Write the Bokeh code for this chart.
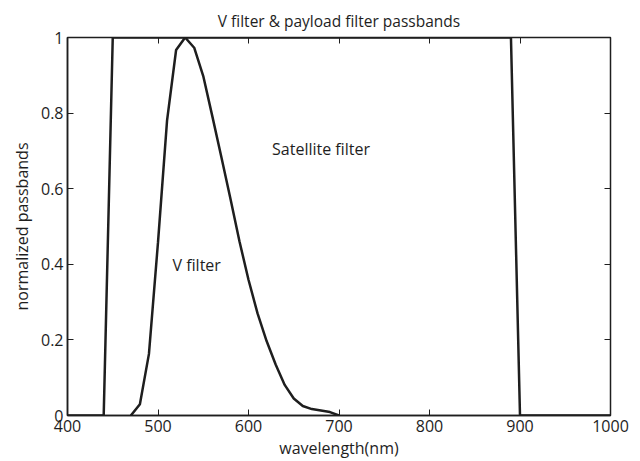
from bokeh.plotting import figure
from bokeh.models import FixedTicker, CustomJSTickFormatter, LinearAxis, Label, Range1d
from bokeh.embed import file_html
from bokeh.resources import INLINE

# Satellite (payload) filter: flat-top passband
sat_wavelength = [400, 440, 450, 890, 900, 1000]
sat_pass = [0, 0, 1, 1, 0, 0]

# Johnson V filter response, normalized
v_wavelength = [470, 480, 490, 500, 510, 520, 530, 540, 550, 560, 570, 580,
                590, 600, 610, 620, 630, 640, 650, 660, 670, 680, 690, 700]
v_pass = [0.0, 0.03, 0.163, 0.458, 0.78, 0.967, 1.0, 0.973, 0.898, 0.792,
          0.684, 0.574, 0.461, 0.359, 0.27, 0.197, 0.135, 0.081, 0.045,
          0.025, 0.017, 0.013, 0.009, 0.0]

x_ticks = [400, 500, 600, 700, 800, 900, 1000]
y_ticks = [0, 0.2, 0.4, 0.6, 0.8, 1]

FONT = "Open Sans"
INK = "#1e1e1e"

p = figure(width=640, height=461, output_backend="svg", toolbar_location=None,
           x_range=Range1d(400, 1000), y_range=Range1d(0, 1),
           title="V filter & payload filter passbands",
           min_border_left=67, min_border_right=30, min_border_top=37,
           min_border_bottom=46)

p.title.align = "center"
p.title.text_font = FONT
p.title.text_font_size = "15.5px"
p.title.text_font_style = "normal"
p.title.text_color = INK
p.title.standoff = 12

p.grid.visible = False
p.outline_line_color = INK
p.outline_line_width = 1.5
p.background_fill_color = "white"
p.border_fill_color = "white"

fmt = CustomJSTickFormatter(code="return String(tick);")
blank = CustomJSTickFormatter(code="return '';")

for ax in p.xaxis:
    ax.ticker = FixedTicker(ticks=x_ticks)
    ax.axis_label = "wavelength(nm)"
for ax in p.yaxis:
    ax.ticker = FixedTicker(ticks=y_ticks)
    ax.axis_label = "normalized passbands"
    ax.formatter = fmt

for ax in p.xaxis + p.yaxis:
    ax.minor_tick_line_color = None
    ax.major_tick_in = 6
    ax.major_tick_out = 0
    ax.major_tick_line_color = INK
    ax.axis_line_color = INK
    ax.axis_line_width = 1.5
    ax.major_label_text_font = FONT
    ax.major_label_text_font_size = "16px"
    ax.major_label_text_color = INK
    ax.axis_label_text_font = FONT
    ax.axis_label_text_font_size = "16px"
    ax.axis_label_text_font_style = "normal"
    ax.axis_label_text_color = INK
    ax.major_label_standoff = 4
    ax.axis_label_standoff = 2
p.yaxis[0].axis_label_standoff = 5

# mirrored tick marks on top and right, no labels
mirror = dict(formatter=blank, major_tick_in=6, major_tick_out=0,
              minor_tick_line_color=None, major_label_standoff=0,
              axis_label_standoff=0, axis_line_color=INK,
              major_tick_line_color=INK)
top = LinearAxis(ticker=FixedTicker(ticks=x_ticks), **mirror)
right = LinearAxis(ticker=FixedTicker(ticks=y_ticks), **mirror)
p.add_layout(top, "above")
p.add_layout(right, "right")

p.line(sat_wavelength, sat_pass, line_color=INK, line_width=2.5)
p.line(v_wavelength, v_pass, line_color=INK, line_width=2.5)

p.add_layout(Label(x=626, y=0.706, text="Satellite filter", text_font=FONT,
                   text_font_size="16px", text_color=INK, text_baseline="middle"))
p.add_layout(Label(x=516, y=0.397, text="V filter", text_font=FONT,
                   text_font_size="16px", text_color=INK, text_baseline="middle"))

open("out.html", "w").write(file_html(p, INLINE))
